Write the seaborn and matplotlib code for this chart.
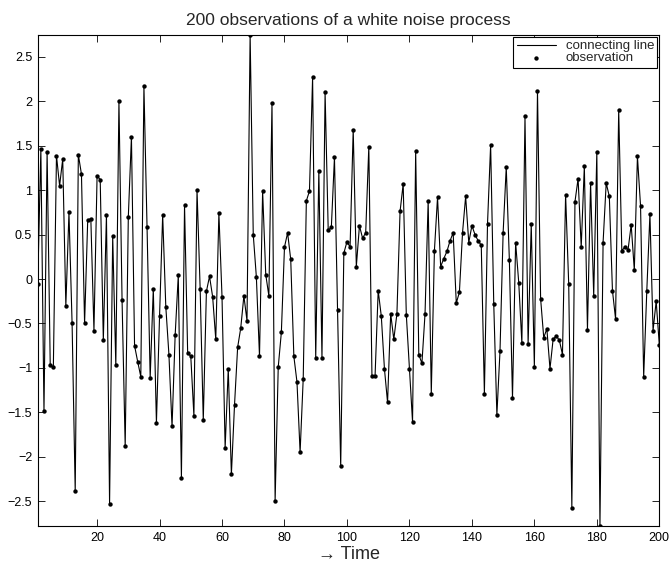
import numpy as np
import pandas as pd
import matplotlib
matplotlib.use("Agg")
import matplotlib.pyplot as plt
import seaborn as sns

# 200 observations of a white noise series
time = list(range(1, 201))
values = [
    -0.06, 1.46, -1.49, 1.43, -0.97, -0.99, 1.39, 1.05, 1.35, -0.30,
    0.75, -0.50, -2.39, 1.40, 1.18, -0.50, 0.66, 0.68, -0.58, 1.16,
    1.12, -0.69, 0.72, -2.53, 0.48, -0.97, 2.00, -0.24, -1.88, 0.70,
    1.60, -0.75, -0.93, -1.10, 2.17, 0.58, -1.11, -0.11, -1.62, -0.42,
    0.72, -0.31, -0.85, -1.66, -0.63, 0.04, -2.24, 0.83, -0.83, -0.87,
    -1.54, 1.00, -0.11, -1.59, -0.14, 0.03, -0.20, -0.68, 0.74, -0.20,
    -1.90, -1.01, -2.20, -1.42, -0.77, -0.55, -0.19, -0.47, 2.75, 0.50,
    0.02, -0.87, 0.99, 0.05, -0.19, 1.98, -2.50, -0.99, -0.60, 0.36,
    0.52, 0.22, -0.87, -1.16, -1.95, -1.12, 0.88, 0.99, 2.27, -0.89,
    1.22, -0.89, 2.10, 0.55, 0.58, 1.37, -0.35, -2.11, 0.29, 0.42,
    0.36, 1.68, 0.14, 0.60, 0.46, 0.52, 1.49, -1.09, -1.09, -0.13,
    -0.42, -1.01, -1.39, -0.39, -0.68, -0.39, 0.76, 1.07, -0.40, -1.01,
    -1.61, 1.44, -0.85, -0.95, -0.39, 0.88, -1.29, 0.32, 0.92, 0.14,
    0.23, 0.31, 0.43, 0.52, -0.27, -0.15, 0.52, 0.93, 0.41, 0.60,
    0.50, 0.43, 0.38, -1.29, 0.62, 1.51, -0.28, -1.53, -0.81, 0.52,
    1.26, 0.21, -1.34, 0.41, -0.04, -0.72, 1.83, -0.73, 0.62, -0.99,
    2.12, -0.22, -0.66, -0.56, -1.01, -0.68, -0.64, -0.69, -0.85, 0.95,
    -0.06, -2.575, 0.87, 1.13, 0.36, 1.27, -0.57, 1.08, -0.19, 1.43,
    -2.78, 0.41, 1.08, 0.93, -0.13, -0.45, 1.90, 0.32, 0.36, 0.33,
    0.61, 0.10, 1.38, 0.82, -1.10, -0.13, 0.73, -0.58, -0.25, -0.74,
]

x_ticks = [20, 40, 60, 80, 100, 120, 140, 160, 180, 200]
y_ticks = [-2.5, -2, -1.5, -1, -0.5, 0, 0.5, 1, 1.5, 2, 2.5]
y_tick_labels = ["\u22122.5", "\u22122", "\u22121.5", "\u22121", "\u22120.5",
                 "0", "0.5", "1", "1.5", "2", "2.5"]

df = pd.DataFrame({"t": time, "x": values})

sns.set_style("ticks")
plt.rcParams["font.family"] = ["Liberation Sans", "DejaVu Sans"]

fig = plt.figure(figsize=(6.69, 5.69), dpi=100)
ax = fig.add_axes([0.0564, 0.0756, 0.9291, 0.8634])

sns.lineplot(data=df, x="t", y="x", ax=ax, color="black", linewidth=0.8,
             label="connecting line", estimator=None, sort=False)
sns.scatterplot(data=df, x="t", y="x", ax=ax, color="black", s=10,
                edgecolor="black", linewidth=0, label="observation", zorder=3)

ax.set_xlim(1, 200)
ax.set_ylim(min(values), max(values))
ax.set_xticks(x_ticks)
ax.set_yticks(y_ticks)
ax.set_yticklabels(y_tick_labels)
ax.tick_params(direction="in", top=True, right=True, length=5, width=0.6,
               labelsize=9, colors="black", pad=4)
for sp in ax.spines.values():
    sp.set_visible(True)
    sp.set_linewidth(0.8)
    sp.set_color("black")

ax.set_title("200 observations of a white noise process", fontsize=12.5, pad=7)
ax.set_xlabel("\u2192 Time", fontsize=13, labelpad=2)
ax.set_ylabel("")

leg = ax.legend(loc="upper right", fontsize=9.5, frameon=True, fancybox=False,
                borderpad=0.25, labelspacing=0.0, handlelength=3.0,
                handletextpad=0.7, borderaxespad=0.15)
leg.get_frame().set_edgecolor("black")
leg.get_frame().set_linewidth(0.8)
leg.get_frame().set_alpha(1)

fig.savefig("out.png", dpi=100)
